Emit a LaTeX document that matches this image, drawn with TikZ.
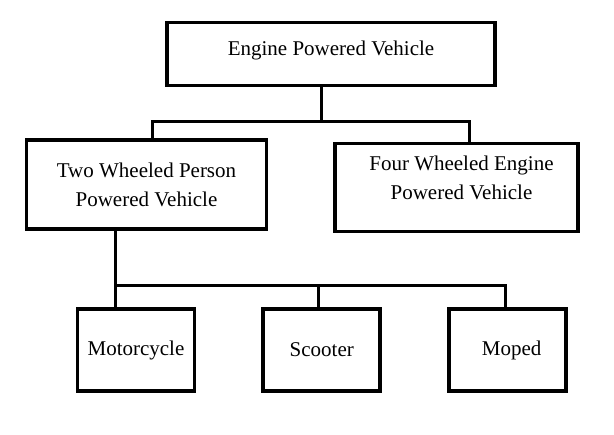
\documentclass[tikz,border=0pt]{standalone}
\usepackage{fontspec}
\setmainfont{Liberation Serif}
\usetikzlibrary{positioning}
\tikzset{vbox/.style={draw, line width=3.8pt, align=center, inner sep=0pt,
    font=\fontsize{21}{29}\selectfont}}
\tikzset{leaf/.style={vbox, minimum width=117pt, minimum height=82pt}}
\tikzset{link/.style={line width=3pt}}

\begin{document}
\begin{tikzpicture}[x=1pt, y=-1pt]
            \useasboundingbox (0,0) rectangle (614,435);
            \node[vbox, minimum width=328pt, minimum height=63pt, text depth=11pt] (engine) at (331,54) {Engine Powered Vehicle};
            \node[vbox, minimum width=240pt, minimum height=89pt] (twowheel) at (146.5,184.5) {Two Wheeled Person\\Powered Vehicle};
            \node[vbox, minimum width=243pt, minimum height=88pt, text depth=20pt] (fourwheel) at (456.5,187.5) {\hspace*{10pt}Four Wheeled Engine\\\hspace*{10pt}Powered Vehicle};
            \node[leaf] (motorcycle) at (136,350) {Motorcycle};
            \node[leaf, right = 65pt of motorcycle] (scooter) {Scooter};
            \node[leaf, right = 65pt of scooter] (moped) {\hspace*{8pt}Moped};
            % upper tree
            \coordinate (topsplit) at (321,122);
            \coordinate (barleft) at (152,122);
            \coordinate (barright) at (469,122);
            \draw[link] (engine.south -| topsplit) -- (topsplit);
            \draw[link] (twowheel.north -| barleft) -- (barleft) -- (barright) -- (fourwheel.north -| barright);
            % lower tree
            \coordinate (lowsplit) at (115,286);
            \coordinate (lowmid) at (318,286);
            \coordinate (lowright) at (505,286);
            \draw[link] (twowheel.south -| lowsplit) -- (lowsplit |- motorcycle.north);
            \draw[link] (lowsplit) -- (lowright) -- (lowright |- moped.north);
            \draw[link] (lowmid) -- (lowmid |- scooter.north);
        \end{tikzpicture}
\end{document}
